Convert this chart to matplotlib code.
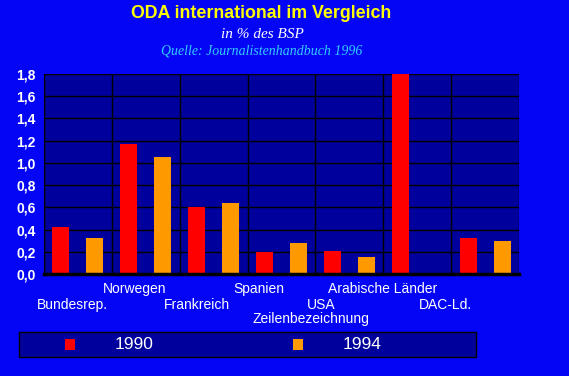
import numpy as np
import matplotlib
matplotlib.use("Agg")
import matplotlib.pyplot as plt
from matplotlib.patches import Rectangle

# data
laender = ["Bundesrep.", "Norwegen", "Frankreich", "Spanien", "USA",
           "Arabische Länder", "DAC-Ld."]
oda_1990 = [0.42, 1.17, 0.60, 0.20, 0.21, 1.80, 0.32]
oda_1994 = [0.32, 1.05, 0.64, 0.28, 0.15, 0.0, 0.30]
y_ticks = [0.0, 0.2, 0.4, 0.6, 0.8, 1.0, 1.2, 1.4, 1.6, 1.8]
jahre = ["1990", "1994"]

bg = "#0505F5"
plot_bg = "#00009C"
rot = "#FF0000"
orange = "#FF9900"

plt.rcParams["font.family"] = ["Liberation Sans", "DejaVu Sans"]

fig = plt.figure(figsize=(5.69, 3.76), dpi=100, facecolor=bg)
ax = fig.add_axes([44 / 569, 1 - 274 / 376, 475 / 569, 200 / 376])
ax.set_facecolor(plot_bg)

x = np.arange(len(laender))
ax.bar(x - 0.25, oda_1990, width=0.25, color=rot, zorder=3)
ax.bar(x + 0.25, oda_1994, width=0.25, color=orange, zorder=3)

ax.set_xlim(-0.5, len(laender) - 0.5)
ax.set_ylim(0, 1.8)
ax.set_yticks(y_ticks)
ax.set_yticklabels([f"{v:.1f}".replace(".", ",") for v in y_ticks],
                   color="white", fontsize=10, fontweight="bold")
ax.tick_params(axis="y", length=0, pad=6)

# grid: horizontal at ticks, vertical at category boundaries
for v in y_ticks[1:]:
    ax.axhline(v, color="black", lw=1, zorder=1)
for b in np.arange(len(laender) + 1) - 0.5:
    ax.axvline(b, color="black", lw=1, zorder=1)

# staggered category labels (slightly compressed, as in the original)
ax.set_xticks([])
for i, name in enumerate(laender):
    pos = -0.08 + 0.915 * i
    y_off = -15 if i % 2 == 1 else -31
    ax.annotate(name, xy=(pos, 0), xycoords="data", xytext=(0, y_off),
                textcoords="offset pixels",
                ha="center", va="center", color="white", fontsize=10)

for s in ["top", "right"]:
    ax.spines[s].set_visible(False)
ax.spines["left"].set_color("black")
ax.spines["bottom"].set_color("black")
ax.spines["bottom"].set_linewidth(2.5)
ax.spines["bottom"].set_zorder(4)

fig.text(311 / 569, 1 - 319 / 376, "Zeilenbezeichnung", ha="center",
         va="center", color="white", fontsize=10)

# titles
fig.text(261 / 569, 1 - 13 / 376, "ODA international im Vergleich",
         ha="center", va="center", color="#FFFF00", fontsize=12.8,
         fontweight="bold")
fig.text(262 / 569, 1 - 34 / 376, "in % des BSP", ha="center", va="center",
         color="white", fontsize=11, style="italic",
         family=["Liberation Serif", "DejaVu Serif"])
fig.text(262 / 569, 1 - 51 / 376, "Quelle: Journalistenhandbuch 1996",
         ha="center", va="center", color="#33CCFF", fontsize=10,
         style="italic", family=["Liberation Serif", "DejaVu Serif"])

# legend box
fig.patches.append(Rectangle((19 / 569, 1 - 357 / 376), 457 / 569, 25 / 376,
                             transform=fig.transFigure, facecolor=plot_bg,
                             edgecolor="black", lw=1))
for (sq_x, txt_x), col, lab in zip([(65, 115), (293, 343)], [rot, orange], jahre):
    fig.patches.append(Rectangle((sq_x / 569, 1 - 350 / 376), 10 / 569,
                                 11 / 376, transform=fig.transFigure,
                                 facecolor=col, edgecolor="none"))
    fig.text(txt_x / 569, 1 - 344.5 / 376, lab, ha="left", va="center",
             color="white", fontsize=12.5)

fig.savefig("out.png", dpi=100, facecolor=bg)
